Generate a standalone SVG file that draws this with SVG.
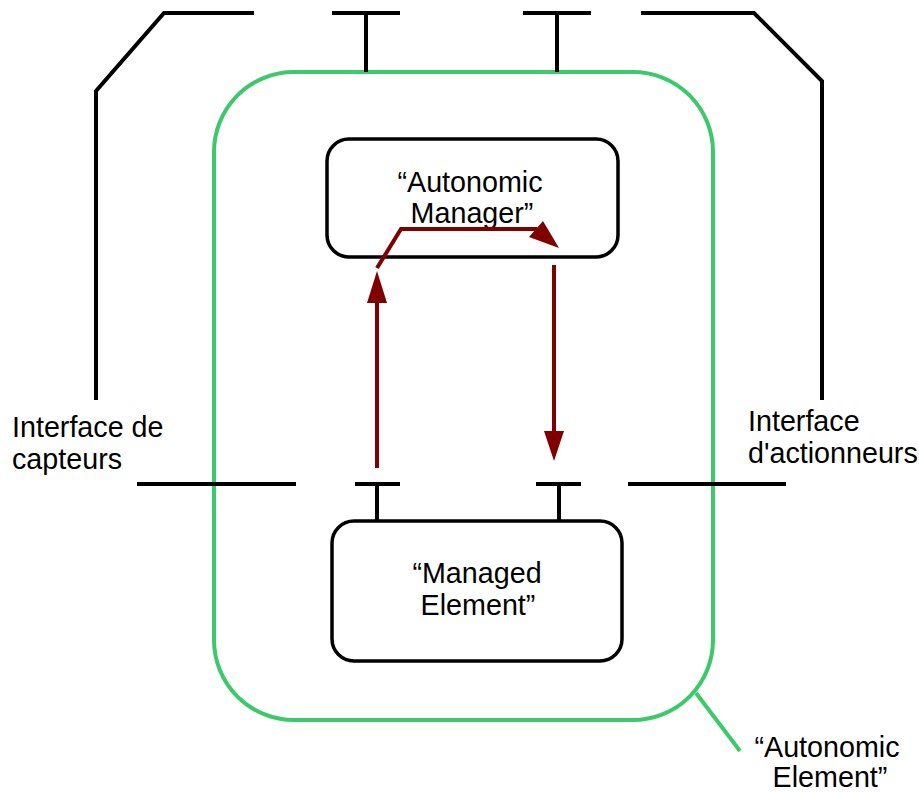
<svg xmlns="http://www.w3.org/2000/svg" width="919" height="792" viewBox="0 0 919 792">
<style>
.blk{fill:none;stroke:#000;stroke-width:4}
.grn{fill:none;stroke:#3cc96a;stroke-width:4}
.red{fill:none;stroke:#800000;stroke-width:4}
.ah{fill:#800000;stroke:none}
.box{fill:#fff;stroke:#000;stroke-width:3.5}
text{font-family:"Liberation Sans",Arial,sans-serif;font-size:28.7px;fill:#000}
.c{text-anchor:middle}
</style>
<rect width="919" height="792" fill="#fff"/>
<g id="autonomic-element">
<rect class="grn" x="214" y="72" width="499" height="648" rx="80" ry="80"/>
<line class="grn" x1="696" y1="693" x2="740" y2="751"/>
<text class="c" x="827" y="757">“Autonomic</text>
<text class="c" x="830" y="787">Element”</text>
</g>
<g id="interfaces">
<polyline class="blk" points="96,400 96,91 164,13 254,13"/>
<line class="blk" x1="332" y1="13" x2="400" y2="13"/>
<line class="blk" x1="366" y1="13" x2="366" y2="72"/>
<line class="blk" x1="523" y1="13" x2="591" y2="13"/>
<line class="blk" x1="557" y1="13" x2="557" y2="72"/>
<polyline class="blk" points="641,13 754,13 822,81 822,400"/>
<line class="blk" x1="137" y1="484" x2="296" y2="484"/>
<line class="blk" x1="355" y1="484" x2="400" y2="484"/>
<line class="blk" x1="377" y1="484" x2="377" y2="521"/>
<line class="blk" x1="536" y1="484" x2="581" y2="484"/>
<line class="blk" x1="559" y1="484" x2="559" y2="521"/>
<line class="blk" x1="628" y1="484" x2="786" y2="484"/>
<text x="12" y="437">Interface de</text>
<text x="12" y="469">capteurs</text>
<text x="748" y="431">Interface</text>
<text x="748" y="463">d'actionneurs</text>
</g>
<g id="autonomic-manager">
<rect class="box" x="327" y="139" width="291" height="118" rx="22" ry="22"/>
<text class="c" x="470" y="192">“Autonomic</text>
<text class="c" x="472" y="223">Manager”</text>
</g>
<g id="managed-element">
<rect class="box" x="332" y="521" width="290" height="140" rx="22" ry="22"/>
<text class="c" x="477" y="583">“Managed</text>
<text class="c" x="478" y="615">Element”</text>
</g>
<g id="connectors">
<line class="red" x1="377" y1="468" x2="377" y2="300"/>
<polygon class="ah" points="377,271 387,303 367,303"/>
<polyline class="red" points="377,268 401,229 537,229"/>
<polygon class="ah" points="559,248 529,237 543,221"/>
<line class="red" x1="554" y1="265" x2="554" y2="433"/>
<polygon class="ah" points="554,461 544,431 564,431"/>
</g>
</svg>
